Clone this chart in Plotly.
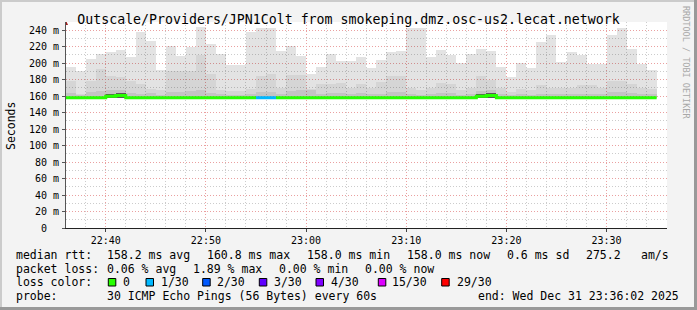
import plotly.graph_objects as go
import pandas as pd

# ---------------- data ----------------
bar_start = pd.date_range("2025-12-31 22:36:00", periods=59, freq="min")

rtt_max = [194.9, 190.0, 205.5, 211.5, 213.1, 216.4, 207.0, 237.4, 227.3, 192.1,
           220.4, 208.3, 220.0, 243.4, 223.7, 211.5, 198.2, 198.2, 237.4, 243.1,
           243.1, 215.2, 221.2, 209.1, 187.5, 195.8, 211.5, 202.4, 203.0, 207.9,
           194.5, 204.2, 214.0, 215.2, 243.1, 243.1, 207.9, 216.4, 210.3, 200.4,
           211.5, 217.6, 215.2, 195.8, 183.7, 200.4, 194.5, 226.1, 234.6, 201.6,
           214.0, 210.3, 199.2, 199.2, 234.6, 243.1, 217.6, 199.2, 192.1]

smoke_mid = [179, 163, 179, 193, 184, 183, 179, 175, 169, 167,
             190, 190, 190, 210, 187, 168, 166, 166, 169, 184,
             187, 170, 186, 186, 169, 175, 175, 176, 170, 175,
             170, 177, 184, 185, 170, 167, 170, 176, 175, 168,
             170, 185, 180, 170, 165, 169, 167, 173, 170, 170,
             170, 173, 173, 170, 179, 179, 175, 170, 169]

smoke_core = [164, 162, 165, 166, 167, 168, 164, 163, 164, 162,
              165, 165, 166, 167, 164, 163, 162, 162, 163, 165,
              165, 163, 166, 167, 167, 163, 164, 164, 163, 164,
              163, 163, 165, 165, 163, 162, 163, 164, 164, 162,
              163, 166, 168, 163, 162, 163, 162, 163, 163, 163,
              163, 163, 163, 163, 165, 165, 164, 163, 163]

smoke_dense = [157.4, 157.4, 157.4, 157.4, 163.2, 164.4, 157.4, 157.4, 157.4, 157.4,
               157.4, 157.4, 157.4, 157.4, 157.4, 157.4, 157.4, 157.4, 157.4, 157.4,
               157.4, 157.4, 157.4, 157.4, 157.4, 157.4, 157.4, 157.4, 157.4, 157.4,
               157.4, 157.4, 157.4, 157.4, 157.4, 157.4, 157.4, 157.4, 157.4, 157.4,
               157.4, 163.0, 164.4, 157.4, 157.4, 157.4, 157.4, 157.4, 157.4, 157.4,
               157.4, 157.4, 157.4, 157.4, 157.4, 157.4, 157.4, 157.4, 157.4]

rtt_min = [157.4, 157.4, 157.4, 157.4, 157.6, 157.6, 157.4, 157.4, 157.4, 157.4,
           157.4, 157.4, 157.4, 157.4, 157.4, 157.4, 157.4, 157.4, 157.4, 157.4,
           157.4, 157.4, 157.4, 157.4, 157.4, 157.4, 157.4, 157.4, 157.4, 157.4,
           157.4, 157.4, 157.4, 157.4, 157.4, 157.4, 157.4, 157.4, 157.4, 157.4,
           157.4, 157.6, 157.6, 157.4, 157.4, 157.4, 157.4, 157.4, 157.4, 157.4,
           157.4, 157.4, 157.4, 157.4, 157.4, 157.4, 157.4, 157.4, 157.4]

median_rtt = [158.1, 158.1, 158.1, 158.1, 159.9, 160.8, 158.1, 158.1, 158.1, 158.1,
              158.1, 158.1, 158.1, 158.1, 158.1, 158.1, 158.1, 158.1, 158.1, 158.1,
              158.1, 158.1, 158.1, 158.1, 158.1, 158.1, 158.1, 158.1, 158.1, 158.1,
              158.1, 158.1, 158.1, 158.1, 158.1, 158.1, 158.1, 158.1, 158.1, 158.1,
              158.1, 159.9, 160.8, 158.1, 158.1, 158.1, 158.1, 158.1, 158.1, 158.1,
              158.1, 158.1, 158.1, 158.1, 158.1, 158.1, 158.1, 158.1, 158.1]

loss_count = [0] * 19 + [1, 1] + [0] * 38

loss_labels = ["0", "1/30", "2/30", "3/30", "4/30", "15/30", "29/30"]
loss_colors = ["#26ff00", "#00b8ff", "#0059ff", "#5e00ff", "#7e00ff", "#dd00ff", "#ff0000"]
loss_color_of = {0: "#26ff00", 1: "#00b8ff", 2: "#0059ff", 3: "#5e00ff", 4: "#7e00ff", 15: "#dd00ff", 29: "#ff0000"}

y_tickvals = [0, 20, 40, 60, 80, 100, 120, 140, 160, 180, 200, 220, 240]
y_ticktext = ["0\u00a0\u00a0"] + [f"{v} m" for v in y_tickvals[1:]]

title_text = "Outscale/Providers/JPN1Colt from smokeping.dmz.osc-us2.lecat.network"

# ---------------- figure ----------------
MONO = "DejaVu Sans Mono"
W, H = 697, 310
L, R, T, B = 66, 30, 22, 82
PW, PH = W - L - R, H - T - B


def xp(px):
    return (px - L) / PW


def yp(py):
    return (H - B - py) / PH


fig = go.Figure()
centers = bar_start + pd.Timedelta(seconds=30)

layers = [
    (rtt_max, "rgba(0,0,0,0.11)"),
    (smoke_mid, "rgba(0,0,0,0.06)"),
    (smoke_core, "rgba(0,0,0,0.08)"),
    (smoke_dense, "rgba(0,0,0,0.55)"),
]
for tops, col in layers:
    fig.add_trace(go.Bar(
        x=centers, y=[t - b for t, b in zip(tops, rtt_min)], base=rtt_min,
        width=60000, marker=dict(color=col, line=dict(width=0)),
        hoverinfo="skip", showlegend=False))

# median line, coloured by loss, drawn as step runs
i = 0
n = len(median_rtt)
while i < n:
    j = i
    while j + 1 < n and loss_count[j + 1] == loss_count[i]:
        j += 1
    xs = list(bar_start[i:j + 1]) + [bar_start[j] + pd.Timedelta(minutes=1)]
    ys = median_rtt[i:j + 1] + [median_rtt[j]]
    fig.add_trace(go.Scatter(
        x=xs, y=ys, mode="lines", line=dict(color=loss_color_of[loss_count[i]], width=3, shape="hv"),
        hoverinfo="skip", showlegend=False))
    i = j + 1

GRID_DASH = "1px,2px"
fig.update_layout(
    width=W, height=H, margin=dict(l=L, r=R, t=T, b=B, pad=0),
    paper_bgcolor="#f3f3f3", plot_bgcolor="#ffffff",
    barmode="overlay", bargap=0, showlegend=False,
    title=dict(text=title_text, x=0.5, xanchor="center", y=1 - 19 / H, yanchor="middle",
               font=dict(family=MONO, size=13.25, color="#000000")),
    xaxis=dict(
        type="date", range=["2025-12-31 22:36:02", "2025-12-31 23:36:02"],
        tick0="2025-12-31 22:40:00", dtick=600000, tickformat="%H:%M",
        tickfont=dict(family=MONO, size=10, color="#000000"),
        ticks="outside", ticklen=3, tickcolor="#444444",
        showgrid=True, gridcolor="#eaa0a0", griddash=GRID_DASH, gridwidth=1,
        minor=dict(dtick=120000, showgrid=True, gridcolor="#cccccc", griddash=GRID_DASH, gridwidth=1),
        showline=True, linecolor="#222222", linewidth=1, zeroline=False,
    ),
    yaxis=dict(
        range=[0, 250], tickvals=y_tickvals, ticktext=y_ticktext,
        tickfont=dict(family=MONO, size=10, color="#000000"),
        ticks="outside", ticklen=3, tickcolor="#555555", ticklabelstandoff=1,
        showgrid=True, gridcolor="#eaa0a0", griddash=GRID_DASH, gridwidth=1,
        minor=dict(dtick=10, showgrid=True, gridcolor="#cccccc", griddash=GRID_DASH, gridwidth=1),
        showline=True, linecolor="#555555", linewidth=1, zeroline=False,
    ),
)

shapes = []
# axis arrows
shapes.append(dict(type="path", xref="x", yref="y", xsizemode="pixel", ysizemode="pixel",
                   xanchor="2025-12-31 22:36:02", yanchor=250,
                   path="M -2,-3 L 2,-3 L 0,1.5 Z", fillcolor="#9b1c1c", line=dict(width=0)))
shapes.append(dict(type="path", xref="x", yref="y", xsizemode="pixel", ysizemode="pixel",
                   xanchor="2025-12-31 23:36:02", yanchor=0,
                   path="M 1,-2 L 1,2 L 6,0 Z", fillcolor="#9b1c1c", line=dict(width=0)))
# frame shading
shapes.append(dict(type="rect", xref="paper", yref="paper", x0=xp(0), x1=xp(W), y0=yp(0), y1=yp(2),
                   fillcolor="#cbcbcb", line=dict(width=0), layer="below"))
shapes.append(dict(type="rect", xref="paper", yref="paper", x0=xp(0), x1=xp(2), y0=yp(0), y1=yp(H),
                   fillcolor="#cbcbcb", line=dict(width=0), layer="below"))
shapes.append(dict(type="rect", xref="paper", yref="paper", x0=xp(0), x1=xp(W), y0=yp(H - 3), y1=yp(H),
                   fillcolor="#999999", line=dict(width=0), layer="below"))
shapes.append(dict(type="rect", xref="paper", yref="paper", x0=xp(W - 3), x1=xp(W), y0=yp(0), y1=yp(H),
                   fillcolor="#999999", line=dict(width=0), layer="below"))

annotations = []


def txt(px, py, s, size=11.5, color="#000000", anchor="left", angle=0):
    annotations.append(dict(x=xp(px), y=yp(py), xref="paper", yref="paper", text=s, showarrow=False,
                            xanchor=anchor, yanchor="middle", textangle=angle,
                            borderpad=0, borderwidth=0,
                            font=dict(family=MONO, size=size, color=color)))


row1 = [(16, "median rtt:"), (107.3, "158.2 ms avg"), (207.3, "160.8 ms max"), (307, "158.0 ms min"),
        (407.3, "158.0 ms now"), (507.3, "0.6 ms sd"), (586, "275.2"), (640.7, "am/s")]
row2 = [(16, "packet loss:"), (107.3, "0.06 % avg"), (193.3, "1.89 % max"), (279, "0.00 % min"),
        (365, "0.00 % now")]
row4 = [(16, "probe:"), (107.3, "30 ICMP Echo Pings (56 Bytes) every 60s"),
        (478.3, "end: Wed Dec 31 23:36:02 2025")]
for py, row in [(255, row1), (268.5, row2), (295.8, row4)]:
    for px, s in row:
        txt(px, py, s)

txt(16, 282.2, "loss color:")
sq_x = [108.3, 146, 202.7, 259.3, 316, 378.3, 441.7]
lab_x = [123.3, 160.7, 217.3, 274, 330.7, 391.7, 456.7]
for sx, lx, lab, col in zip(sq_x, lab_x, loss_labels, loss_colors):
    shapes.append(dict(type="rect", xref="paper", yref="paper", x0=xp(sx), x1=xp(sx + 7.5),
                       y0=yp(286), y1=yp(278.5), fillcolor=col, line=dict(color="#000000", width=1)))
    txt(lx, 282.2, lab)

txt(11, 126, "Seconds", size=11.5, anchor="center", angle=-90)
txt(686, 62, "RRDTOOL / TOBI OETIKER", size=8.5, color="#a8a8a8", anchor="center", angle=90)

fig.update_layout(shapes=shapes, annotations=annotations)
fig.write_html("out.html")
